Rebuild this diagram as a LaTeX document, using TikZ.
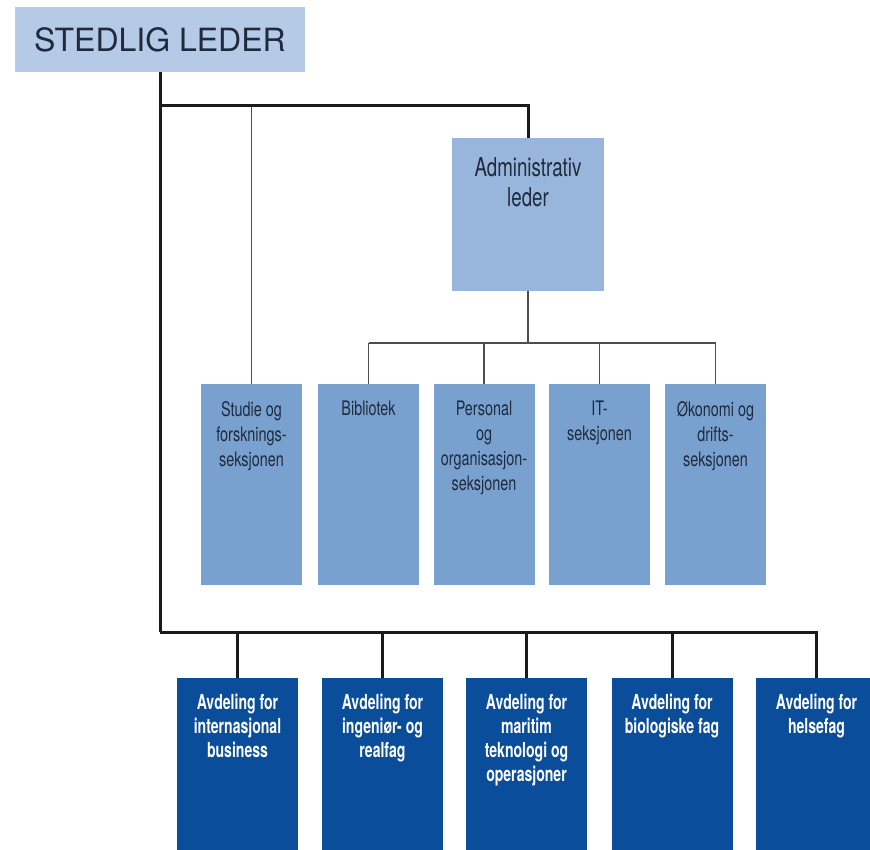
\documentclass[tikz,border=0pt]{standalone}
\usepackage{fontspec}
\setmainfont{TeX Gyre Heros}
\newfontfamily\condfont[FakeStretch=0.72]{TeX Gyre Heros}
\newfontfamily\condbold[FakeStretch=0.68]{TeX Gyre Heros Bold}
\definecolor{titlebox}{HTML}{B4CAE6}
\definecolor{adminbox}{HTML}{98B5DC}
\definecolor{secbox}{HTML}{79A1CF}
\definecolor{deptbox}{HTML}{0A4E9B}
\definecolor{darktext}{HTML}{1F2B3D}
\definecolor{thickline}{HTML}{1A1A1A}
\definecolor{thinline}{HTML}{4D4D4D}
\tikzset{
  boxbase/.style={rectangle, draw=none, inner sep=0pt, outer sep=0pt},
  titlestyle/.style={boxbase, fill=titlebox, minimum width=217.5pt, minimum height=48.75pt, anchor=north west,
     text=darktext, font=\fontsize{24}{28}\selectfont},
  adminstyle/.style={boxbase, fill=adminbox, minimum width=114pt, minimum height=114.75pt, anchor=north},
  secstyle/.style={boxbase, fill=secbox, minimum width=75.75pt, minimum height=150.75pt, anchor=north},
  deptstyle/.style={boxbase, fill=deptbox, minimum width=90.75pt, minimum height=135pt, anchor=north},
  admintext/.style={inner sep=0pt, anchor=north, align=center, text=darktext,
     font=\condfont\fontsize{19.5}{22.5}\selectfont},
  sectext/.style={inner sep=0pt, anchor=north, align=center, text=darktext,
     font=\condfont\fontsize{15}{18.75}\selectfont},
  depttext/.style={inner sep=0pt, anchor=north, align=center, text=white,
     font=\condbold\fontsize{15.5}{18}\selectfont},
  thickconn/.style={draw=thickline, line width=2.25pt},
  thinconn/.style={draw=thinline, line width=1.1pt},
}
\begin{document}
\begin{tikzpicture}[x=0.75pt,y=-0.75pt]
\useasboundingbox (0,0) rectangle (870,849);
\clip (0,0) rectangle (870,849);
% boxes
\node[titlestyle] (lead) at (15,7) {STEDLIG LEDER};
\node[adminstyle] (admin) at (528,138) {};
\node[secstyle] (s1) at (251.5,384) {};
\node[secstyle] (s2) at (368.5,384) {};
\node[secstyle] (s3) at (484,384) {};
\node[secstyle] (s4) at (599.5,384) {};
\node[secstyle] (s5) at (715.5,384) {};
\node[deptstyle] (d1) at (237.5,678) {};
\node[deptstyle] (d2) at (382.5,678) {};
\node[deptstyle] (d3) at (526.5,678) {};
\node[deptstyle] (d4) at (672,678) {};
\node[deptstyle] (d5) at (816.5,678) {};
% texts
\node[admintext,yshift=-14.25pt] (tadmin) at (admin.north) {Administrativ\\leder};
\node[sectext,yshift=-12.75pt] (ts1) at (s1.north) {Studie og\\forsknings-\\seksjonen};
\node[sectext,yshift=-12.75pt] (ts2) at (s2.north) {Bibliotek};
\node[sectext,yshift=-12.75pt] (ts3) at (s3.north) {Personal\\og\\organisasjon-\\seksjonen};
\node[sectext,yshift=-12.75pt] (ts4) at (s4.north) {IT-\\seksjonen};
\node[sectext,yshift=-12.75pt] (ts5) at (s5.north) {Økonomi og\\drifts-\\seksjonen};
\node[depttext,yshift=-12pt] (td1) at (d1.north) {Avdeling for\\internasjonal\\business};
\node[depttext,yshift=-12pt] (td2) at (d2.north) {Avdeling for\\ingeniør- og\\realfag};
\node[depttext,yshift=-12pt] (td3) at (d3.north) {Avdeling for\\maritim\\teknologi og\\operasjoner};
\node[depttext,yshift=-12pt] (td4) at (d4.north) {Avdeling for\\biologiske fag};
\node[depttext,yshift=-12pt] (td5) at (d5.north) {Avdeling for\\helsefag};
% junctions
\coordinate (j1) at (160,105);
\coordinate (j2) at (160,632);
\coordinate (j3) at (528,343);
% connectors
\draw[thinconn] (s1.north) -- (s1.north |- j1);
\draw[thickconn] (lead.south) -- (j2);
\draw[thickconn] (j1) -| (admin.north);
\draw[thinconn] (admin.south) -- (j3);
\draw[thinconn] (s2.north |- j3) -- (s5.north |- j3);
\foreach \n in {s2,s3,s4,s5} \draw[thinconn] (\n.north) -- (\n.north |- j3);
\draw[thickconn] (j2) -| (d5.north);
\foreach \n in {d1,d2,d3,d4} \draw[thickconn] (\n.north) -- (\n.north |- j2);
\end{tikzpicture}
\end{document}
